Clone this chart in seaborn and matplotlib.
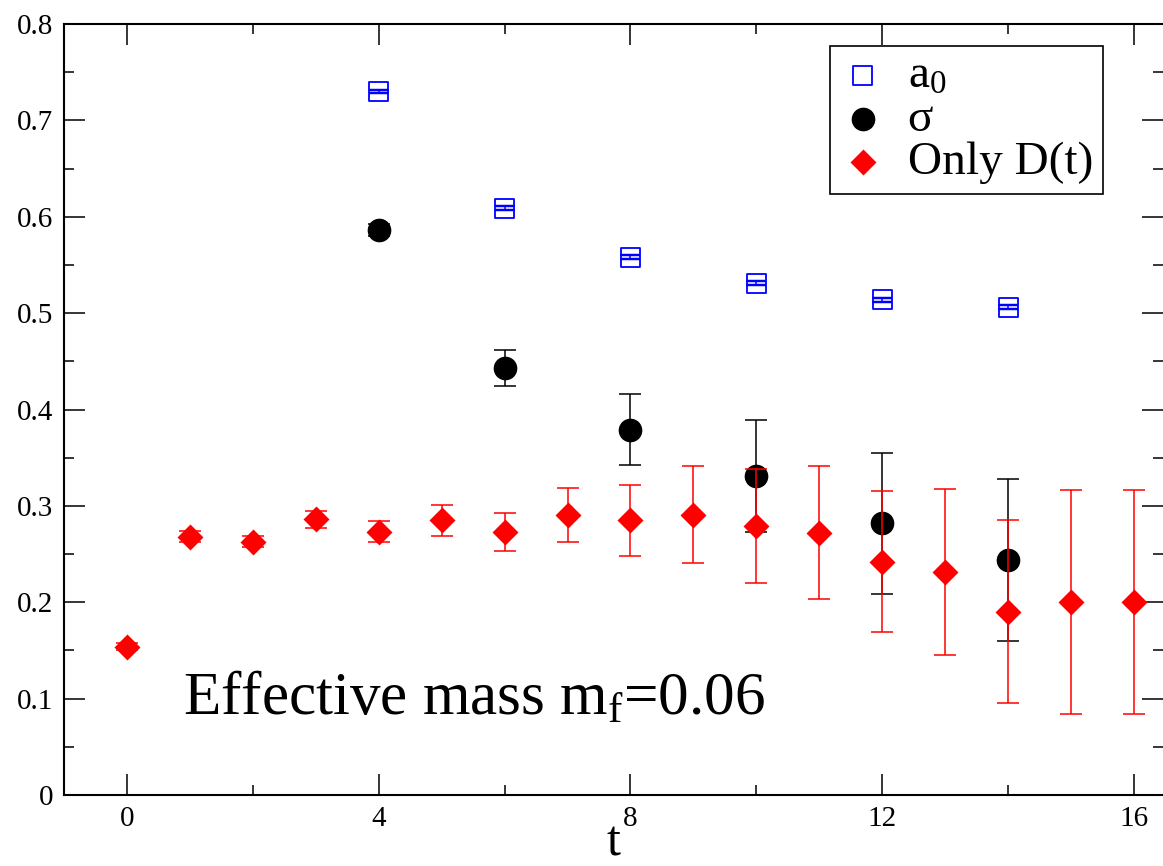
import numpy as np
import pandas as pd
import matplotlib
matplotlib.use("Agg")
import matplotlib.pyplot as plt
from matplotlib.ticker import MultipleLocator
import seaborn as sns

# a0 channel
t_a0 = [4, 6, 8, 10, 12, 14]
m_a0 = [0.730, 0.609, 0.558, 0.531, 0.514, 0.506]
e_a0 = [0.002, 0.002, 0.002, 0.002, 0.002, 0.002]

# sigma channel
t_sig = [4, 6, 8, 10, 12, 14]
m_sig = [0.586, 0.443, 0.379, 0.331, 0.282, 0.244]
e_sig = [0.006, 0.019, 0.037, 0.058, 0.073, 0.084]

# only D(t)
t_d = [0, 1, 2, 3, 4, 5, 6, 7, 8, 9, 10, 11, 12, 13, 14, 15, 16]
m_d = [0.154, 0.268, 0.263, 0.286, 0.273, 0.285, 0.273, 0.291, 0.285, 0.291,
       0.279, 0.272, 0.242, 0.231, 0.190, 0.200, 0.200]
e_d = [0.004, 0.006, 0.006, 0.009, 0.011, 0.016, 0.020, 0.028, 0.037, 0.050,
       0.059, 0.069, 0.073, 0.086, 0.095, 0.116, 0.116]

df_a0 = pd.DataFrame({"t": t_a0, "m": m_a0, "e": e_a0})
df_sig = pd.DataFrame({"t": t_sig, "m": m_sig, "e": e_sig})
df_d = pd.DataFrame({"t": t_d, "m": m_d, "e": e_d})

sns.set_theme(style="ticks")
plt.rcParams["font.family"] = ["Liberation Serif", "DejaVu Serif"]
plt.rcParams["mathtext.fontset"] = "custom"
plt.rcParams["mathtext.rm"] = "Liberation Serif"
plt.rcParams["mathtext.it"] = "Liberation Serif"
plt.rcParams["mathtext.default"] = "regular"
plt.rcParams["text.color"] = "black"
plt.rcParams["axes.labelcolor"] = "black"

fig = plt.figure(figsize=(11.63, 8.66), dpi=100)
ax = fig.add_axes([64 / 1163, 1 - 795 / 866, 1 - 64 / 1163, 771 / 866])

lw = 1.1
ax.errorbar(df_a0["t"], df_a0["m"], yerr=df_a0["e"], fmt="none", ecolor="blue",
            elinewidth=lw, capsize=7, capthick=lw * 1.6, zorder=2)
sns.scatterplot(data=df_a0, x="t", y="m", ax=ax, marker="s", s=190,
                facecolor="none", edgecolor="blue", linewidth=1.3,
                label="a$_0$", zorder=3)

ax.errorbar(df_sig["t"], df_sig["m"], yerr=df_sig["e"], fmt="none", ecolor="black",
            elinewidth=lw, capsize=8, capthick=lw, zorder=4)
sns.scatterplot(data=df_sig, x="t", y="m", ax=ax, marker="o", s=290,
                color="black", edgecolor="black", linewidth=0,
                label="σ", zorder=5)

ax.errorbar(df_d["t"], df_d["m"], yerr=df_d["e"], fmt="none", ecolor="red",
            elinewidth=lw, capsize=8, capthick=lw, zorder=6)
sns.scatterplot(data=df_d, x="t", y="m", ax=ax, marker="D", s=175,
                color="red", edgecolor="red", linewidth=0,
                label="Only D(t)", zorder=7)

ax.set_xlim(-1, 16.46)
ax.set_ylim(0, 0.8)
ax.xaxis.set_major_locator(MultipleLocator(4))
ax.xaxis.set_minor_locator(MultipleLocator(2))
ax.yaxis.set_minor_locator(MultipleLocator(0.05))
ax.set_yticks(np.arange(0, 0.81, 0.1))
ax.set_yticklabels(["0", "0.1", "0.2", "0.3", "0.4", "0.5", "0.6", "0.7", "0.8"])

ax.tick_params(which="both", direction="in", top=True, right=True,
               width=1.1, labelsize=21, colors="black")
ax.tick_params(which="major", length=15, pad=8)
ax.tick_params(which="minor", length=7.5)
for side in ["left", "bottom", "top"]:
    ax.spines[side].set_linewidth(1.5)
    ax.spines[side].set_color("black")
ax.spines["right"].set_visible(False)

ax.set_xlabel("t", fontsize=36, labelpad=-9)
ax.set_ylabel("")

ax.text(0.108, 0.104, "Effective mass m$_f$=0.06", transform=ax.transAxes,
        fontsize=44, va="baseline", ha="left")

leg = ax.legend(loc="upper right", bbox_to_anchor=(0.945, 0.972), fontsize=34,
                frameon=True, fancybox=False, framealpha=1, edgecolor="black",
                borderaxespad=0, handletextpad=0.45, labelspacing=0.0,
                borderpad=0.2, handlelength=1.0)
leg.get_frame().set_linewidth(1.2)

fig.savefig("out.png", dpi=100)
